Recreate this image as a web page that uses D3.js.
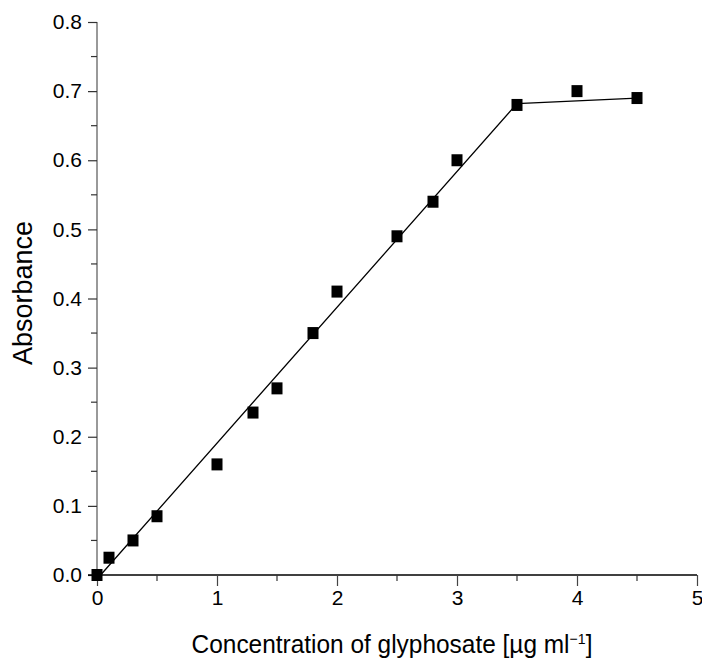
<!DOCTYPE html>
<html>
<head>
<meta charset="utf-8">
<script src="https://cdn.jsdelivr.net/npm/d3@7"></script>
<style>
body { margin: 0; background: #fff; }
text { font-family: "Liberation Sans", Arial, Helvetica, sans-serif; fill: #000; }
.tick text { font-size: 21px !important; }
</style>
</head>
<body>
<svg id="chart" width="702" height="659"></svg>
<script>
// measured points
var concentration = [0, 0.1, 0.3, 0.5, 1.0, 1.3, 1.5, 1.8, 2.0, 2.5, 2.8, 3.0, 3.5, 4.0, 4.5];
var absorbance = [0, 0.025, 0.05, 0.085, 0.16, 0.235, 0.27, 0.35, 0.41, 0.49, 0.54, 0.60, 0.68, 0.70, 0.69];
// fitted broken line
var fitX = [0.03, 3.5, 4.5];
var fitY = [0, 0.682, 0.69];
var xTicks = [0, 1, 2, 3, 4, 5];
var yTicks = [0, 0.1, 0.2, 0.3, 0.4, 0.5, 0.6, 0.7, 0.8];

var svg = d3.select('#chart');
var x = d3.scaleLinear().domain([0, 5]).range([97, 697]);
var y = d3.scaleLinear().domain([0, 0.8]).range([575, 22]);

// y axis
var yAxis = d3.axisLeft(y).tickValues(yTicks).tickFormat(d3.format('.1f')).tickSize(9).tickPadding(6);
var gy = svg.append('g').attr('transform', 'translate(97,0)').call(yAxis);
gy.select('.domain').attr('stroke', '#555').attr('stroke-width', 1.2).attr('d', 'M0,' + y(0.8) + 'V' + y(0));
gy.selectAll('.tick line').attr('stroke', '#333').attr('stroke-width', 1.2);
gy.selectAll('.minor')
	.data(d3.range(0.05, 0.8, 0.1))
	.enter()
	.append('line')
	.attr('class', 'minor')
	.attr('x1', -6)
	.attr('x2', 0)
	.attr('y1', function(d) { return y(d); })
	.attr('y2', function(d) { return y(d); })
	.attr('stroke', '#333')
	.attr('stroke-width', 1.2);

// x axis
var xAxis = d3.axisBottom(x).tickValues(xTicks).tickFormat(d3.format('d')).tickSize(11).tickPadding(4).tickSizeOuter(0);
var gx = svg.append('g').attr('transform', 'translate(0,575)').call(xAxis);
gx.select('.domain').attr('stroke', '#000').attr('stroke-width', 1.4).attr('d', 'M' + (x(0) - 9) + ',0H' + x(5));
gx.selectAll('.tick line').attr('stroke', '#444').attr('stroke-width', 1.2);
gx.selectAll('.minor')
	.data(d3.range(0.5, 5, 1))
	.enter()
	.append('line')
	.attr('class', 'minor')
	.attr('x1', function(d) { return x(d); })
	.attr('x2', function(d) { return x(d); })
	.attr('y1', 0)
	.attr('y2', 6)
	.attr('stroke', '#333')
	.attr('stroke-width', 1.2);

// fit line
var line = d3.line()
	.x(function(d) { return x(d[0]); })
	.y(function(d) { return y(d[1]); });
svg.append('path')
	.datum(d3.zip(fitX, fitY))
	.attr('d', line)
	.attr('fill', 'none')
	.attr('stroke', '#000')
	.attr('stroke-width', 1.3);

// squares
svg.append('g')
	.selectAll('rect')
	.data(d3.zip(concentration, absorbance))
	.enter()
	.append('rect')
	.attr('x', function(d) { return x(d[0]) - 5.5; })
	.attr('y', function(d) { return y(d[1]) - 6; })
	.attr('width', 11)
	.attr('height', 12)
	.attr('fill', '#000');

// titles
svg.append('text')
	.attr('transform', 'translate(392,653) scale(0.94,1)')
	.attr('text-anchor', 'middle')
	.style('font-size', '26px')
	.html('Concentration of glyphosate [µg ml<tspan dy="-9" style="font-size:15px">−1</tspan><tspan dy="9">]</tspan>');
svg.append('text')
	.attr('transform', 'translate(32,293) rotate(-90)')
	.attr('text-anchor', 'middle')
	.style('font-size', '27px')
	.text('Absorbance');
</script>
</body>
</html>
